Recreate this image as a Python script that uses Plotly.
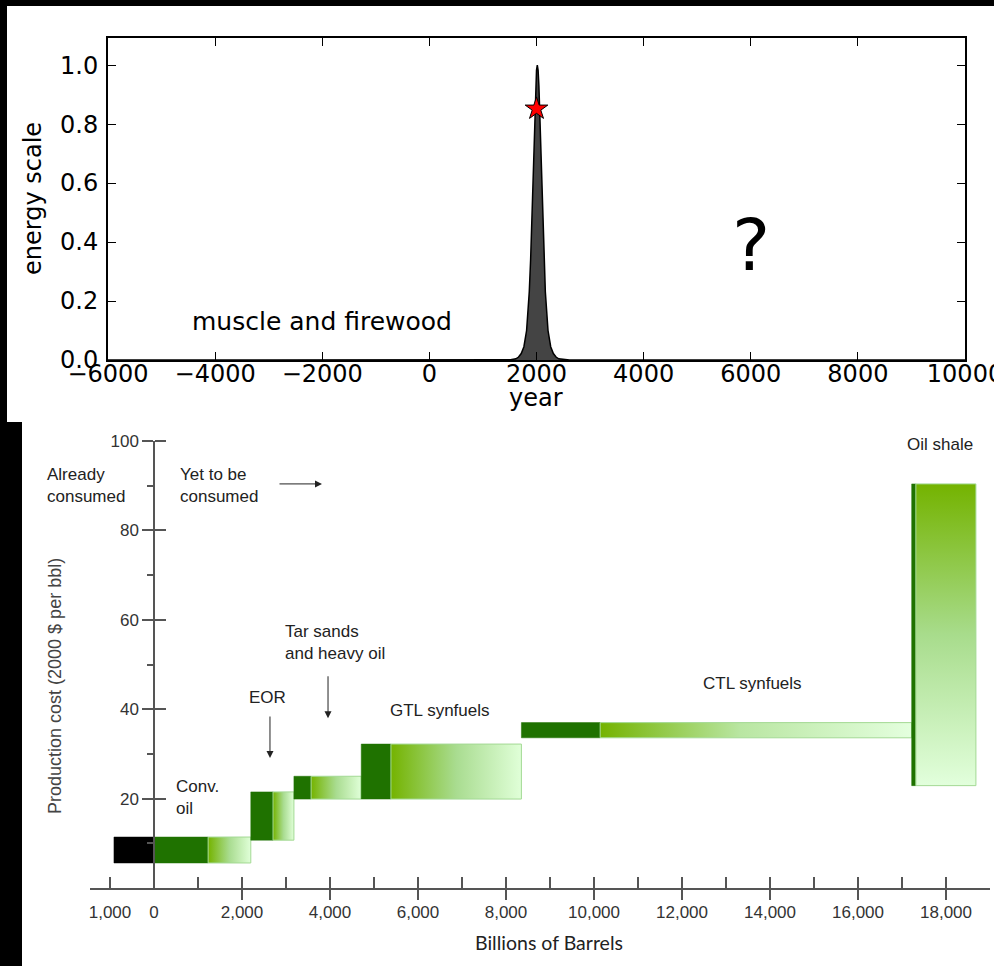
import plotly.graph_objects as go

# ---------------- upper panel: energy use over the years ----------------
years = [1415, 1515, 1615, 1665, 1715, 1765, 1815, 1865, 1890, 1915, 1940, 1965,
         1985, 2000, 2015, 2030, 2045, 2065, 2090, 2115, 2140, 2165, 2215, 2265,
         2315, 2365, 2415, 2515, 2615]
energy = [0.000, 0.001, 0.004, 0.010, 0.022, 0.045, 0.100, 0.231, 0.339, 0.481,
          0.648, 0.819, 0.929, 0.982, 1.000, 0.982, 0.929, 0.819, 0.648, 0.481,
          0.339, 0.231, 0.100, 0.045, 0.022, 0.010, 0.004, 0.001, 0.000]
now_year = [2000]
now_energy = [0.852]

year_ticks = [-6000, -4000, -2000, 0, 2000, 4000, 6000, 8000, 10000]
year_ticktext = ["\u22126000", "\u22124000", "\u22122000", "0", "2000", "4000",
                 "6000", "8000", "10000"]
energy_ticks = [0.0, 0.2, 0.4, 0.6, 0.8, 1.0]
energy_ticktext = ["0.0", "0.2", "0.4", "0.6", "0.8", "1.0"]

# ---------------- lower panel: oil supply cost curve ----------------
sources = ["Already consumed", "Conv. oil", "EOR", "Tar sands and heavy oil",
           "GTL synfuels", "CTL synfuels", "Oil shale"]
barrels_start = [-910, 0, 2200, 3180, 4710, 8350, 17220]
barrels_dark_end = [0, 1230, 2705, 3570, 5385, 10140, 17315]
barrels_end = [0, 2200, 3180, 4710, 8350, 17220, 18680]
cost_low = [5.6, 5.6, 10.7, 19.9, 19.9, 33.6, 22.9]
cost_high = [11.4, 11.4, 21.5, 25.0, 32.2, 37.0, 90.4]

barrel_label_vals = [-1000, 0, 2000, 4000, 6000, 8000, 10000, 12000, 14000, 16000, 18000]
barrel_label_text = ["1,000", "0", "2,000", "4,000", "6,000", "8,000", "10,000",
                     "12,000", "14,000", "16,000", "18,000"]
barrel_up_ticks = [-1000, 1000, 2000, 3000, 4000, 5000, 6000, 7000, 8000, 9000,
                   10000, 11000, 12000, 13000, 14000, 15000, 16000, 17000, 18000]
barrel_down_ticks = [2000, 4000, 6000, 8000, 10000, 12000, 14000, 16000, 18000]
cost_ticks = [20, 40, 60, 80, 100]
cost_minor_ticks = [10, 30, 50, 70, 90]

W, H = 994, 966


def px(x):
    return x / W


def py(y):
    return 1 - y / H


fig = go.Figure()

# upper panel curve and "today" marker
fig.add_trace(go.Scatter(
    x=[-6000] + years + [10000], y=[0] + energy + [0],
    mode="lines", fill="tozeroy", fillcolor="#444444",
    line=dict(color="black", width=1.5), xaxis="x", yaxis="y",
    hoverinfo="skip", showlegend=False))
fig.add_trace(go.Scatter(
    x=now_year, y=now_energy, mode="markers",
    marker=dict(symbol="star", size=17, color="#ff0000",
                line=dict(color="black", width=1)),
    xaxis="x", yaxis="y", hoverinfo="skip", showlegend=False))

# lower panel blocks: dark part + shaded remainder
DARK = "#1f7200"
for i, name in enumerate(sources):
    x0, xs, x1 = barrels_start[i], barrels_dark_end[i], barrels_end[i]
    lo, hi = cost_low[i], cost_high[i]
    dark_color = "#000000" if i == 0 else DARK
    fig.add_trace(go.Scatter(
        x=[x0, xs, xs, x0, x0], y=[lo, lo, hi, hi, lo],
        mode="lines", fill="toself", fillcolor=dark_color,
        line=dict(color=dark_color, width=0.5),
        xaxis="x2", yaxis="y2", hoverinfo="skip", showlegend=False, name=name))
    if x1 > xs:
        if name == "Oil shale":
            grad = dict(type="vertical",
                        colorscale=[[0, "#e2ffdc"], [0.5, "#a8dc8c"], [1, "#74b300"]])
        elif name == "CTL synfuels":
            grad = dict(type="horizontal",
                        colorscale=[[0, "#74b300"], [0.45, "#b9e6a2"], [1, "#e4ffde"]])
        else:
            grad = dict(type="horizontal",
                        colorscale=[[0, "#74b300"], [0.5, "#a9dc90"], [1, "#e0ffd8"]])
        fig.add_trace(go.Scatter(
            x=[xs, x1, x1, xs, xs], y=[lo, lo, hi, hi, lo],
            mode="lines", fill="toself", fillgradient=grad,
            line=dict(color="#a3d994", width=1),
            xaxis="x2", yaxis="y2", hoverinfo="skip", showlegend=False, name=name))

# empty traces so the overlay tick axes are laid out
for xa, ya in [("x3", "y2"), ("x4", "y2"), ("x2", "y3")]:
    fig.add_trace(go.Scatter(x=[None], y=[None], xaxis=xa, yaxis=ya,
                             hoverinfo="skip", showlegend=False))

top_font = dict(family="DejaVu Sans", size=24, color="black")
bot_tick_font = dict(family="Liberation Sans", size=17, color="#333333")
AX = "#555555"
x2_range = [(90 - 154) / 0.044, (990 - 154) / 0.044]
common = dict(automargin=False, showgrid=False, zeroline=False)

fig.update_layout(
    width=W, height=H, margin=dict(l=0, r=0, t=0, b=0, autoexpand=False),
    paper_bgcolor="black", plot_bgcolor="white",
    xaxis=dict(domain=[px(108), px(965)], range=[-6000, 10000], anchor="y",
               tickmode="array", tickvals=year_ticks, ticktext=year_ticktext,
               ticks="inside", ticklen=8, tickwidth=1, tickcolor="black",
               showline=True, linecolor="black", linewidth=2, mirror="ticks",
               ticklabelstandoff=-9,
               ticklabeloverflow="allow", tickfont=top_font, **common),
    yaxis=dict(domain=[py(360), py(38)], range=[0, 1.092], anchor="x",
               tickmode="array", tickvals=energy_ticks, ticktext=energy_ticktext,
               ticks="inside", ticklen=8, tickwidth=1, tickcolor="black",
               showline=True, linecolor="black", linewidth=2, mirror="ticks",
               ticklabelstandoff=3,
               ticklabeloverflow="allow", tickfont=top_font, **common),
    xaxis2=dict(domain=[px(90), px(990)], range=x2_range, anchor="y2",
                tickmode="array", tickvals=barrel_label_vals, ticktext=barrel_label_text,
                ticks="outside", ticklen=11, tickcolor="rgba(0,0,0,0)",
                showline=True, linecolor=AX, linewidth=1.5, ticklabelstandoff=-3,
                ticklabeloverflow="allow", tickfont=bot_tick_font, **common),
    xaxis3=dict(range=x2_range, overlaying="x2", side="top", anchor="free",
                position=py(888), tickmode="array", tickvals=barrel_up_ticks,
                ticks="outside", ticklen=11, tickwidth=1.5, tickcolor=AX,
                showticklabels=False, showline=False, **common),
    xaxis4=dict(range=x2_range, overlaying="x2", side="bottom", anchor="free",
                position=py(888), tickmode="array", tickvals=barrel_down_ticks,
                ticks="outside", ticklen=11, tickwidth=1.5, tickcolor=AX,
                showticklabels=False, showline=False, **common),
    yaxis2=dict(domain=[py(888), py(441)], range=[0, 100], anchor="free",
                position=px(154), side="left",
                tickmode="array", tickvals=cost_ticks,
                ticks="outside", ticklen=11, tickwidth=1.5, tickcolor=AX,
                minor=dict(tickmode="array", tickvals=cost_minor_ticks, ticks="outside",
                           ticklen=6, tickwidth=1.5, tickcolor=AX),
                showline=True, linecolor=AX, linewidth=1.5,
                ticklabeloverflow="allow", tickfont=bot_tick_font, **common),
    yaxis3=dict(range=[0, 100], overlaying="y2", side="right", anchor="free",
                position=px(154), tickmode="array", tickvals=cost_ticks,
                ticks="outside", ticklen=11, tickwidth=1.5, tickcolor=AX,
                showticklabels=False, showline=False, **common),
)

# white panels on the black page
fig.add_shape(type="rect", xref="paper", yref="paper", layer="below",
              x0=px(7), x1=1, y0=py(422), y1=py(6),
              fillcolor="white", line=dict(width=0))
fig.add_shape(type="rect", xref="paper", yref="paper", layer="below",
              x0=px(22), x1=1, y0=0, y1=py(422),
              fillcolor="white", line=dict(width=0))

# upper panel text
fig.add_annotation(x=-2000, y=0.129, xref="x", yref="y", text="muscle and firewood",
                   showarrow=False, font=dict(family="DejaVu Sans", size=25, color="black"))
fig.add_annotation(x=6000, y=0.39, xref="x", yref="y", text="?",
                   showarrow=False, font=dict(family="DejaVu Sans", size=72, color="black"))
fig.add_annotation(x=px(33), y=py(199), xref="paper", yref="paper", text="energy scale",
                   xanchor="center", yanchor="middle",
                   textangle=-90, showarrow=False, font=top_font)
fig.add_annotation(x=px(536), y=py(398), xref="paper", yref="paper", text="year",
                   xanchor="center", yanchor="middle",
                   showarrow=False, font=top_font)

# lower panel text
lab = dict(family="Liberation Sans", size=17, color="#222222")
for text, x, y, anchor in [
    ("Already<br>consumed", 45, 485, "left"),
    ("Yet to be<br>consumed", 178, 485, "left"),
    ("Conv.<br>oil", 174, 797, "left"),
    ("EOR", 247, 697, "left"),
    ("Tar sands<br>and heavy oil", 283, 642, "left"),
    ("GTL synfuels", 388, 710, "left"),
    ("CTL synfuels", 752, 683, "center"),
    ("Oil shale", 940, 444, "center"),
]:
    fig.add_annotation(x=px(x), y=py(y), xref="paper", yref="paper", text=text,
                       xanchor=anchor, yanchor="middle", align="left",
                       showarrow=False, font=lab)

fig.add_annotation(x=px(549), y=py(942), xref="paper", yref="paper",
                   text="Billions of Barrels", showarrow=False,
                   xanchor="center", yanchor="middle",
                   font=dict(family="Lato", size=19.5, color="#222222"))
fig.add_annotation(x=px(55), y=py(686), xref="paper", yref="paper",
                   text="Production cost (2000 $ per bbl)", textangle=-90,
                   xanchor="center", yanchor="middle",
                   showarrow=False, font=dict(family="Liberation Sans", size=18, color="#444444"))

# arrows
for hx, hy, tx, ty in [(3818, 90.4, 2818, 90.4), (2636, 29.1, 2636, 38.7),
                       (3955, 38.0, 3955, 47.7)]:
    fig.add_annotation(x=hx, y=hy, ax=tx, ay=ty, xref="x2", yref="y2",
                       axref="x2", ayref="y2", text="", showarrow=True,
                       arrowhead=2, arrowsize=1.4, arrowwidth=1, arrowcolor="#222222")

fig.write_html("out.html")
